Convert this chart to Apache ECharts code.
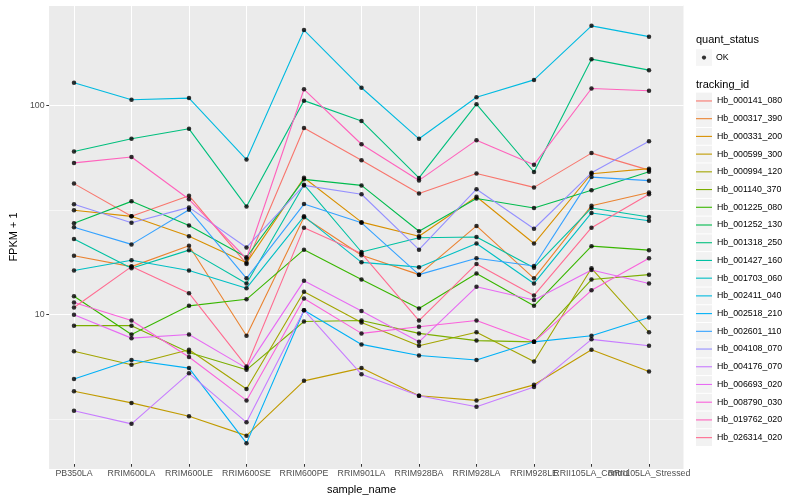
<!DOCTYPE html>
<html><head><meta charset="utf-8">
<script src="https://cdn.jsdelivr.net/npm/echarts@6/dist/echarts.min.js"></script>
<style>html,body{margin:0;padding:0;background:#fff}#c{width:800px;height:500px}</style>
</head><body><div id="c"></div>
<script>
const sampleNames = ['PB350LA','RRIM600LA','RRIM600LE','RRIM600SE','RRIM600PE','RRIM901LA','RRIM928BA','RRIM928LA','RRIM928LE','RRII105LA_Control','RRII105LA_Stressed'];
const trackingIds = ['Hb_000141_080','Hb_000317_390','Hb_000331_200','Hb_000599_300','Hb_000994_120','Hb_001140_370','Hb_001225_080','Hb_001252_130','Hb_001318_250','Hb_001427_160','Hb_001703_060','Hb_002411_040','Hb_002518_210','Hb_002601_110','Hb_004108_070','Hb_004176_070','Hb_006693_020','Hb_008790_030','Hb_019762_020','Hb_026314_020'];
const quantStatus = ['OK'];

const Hb_000141_080 = [41.3, 28.7, 36.1, 16.9, 76.7, 53.6, 37.0, 46.2, 39.6, 58.0, 48.0];
const Hb_000317_390 = [18.5, 16.4, 20.7, 7.6, 28.4, 18.6, 15.0, 25.8, 14.4, 32.3, 37.4];
const Hb_000331_200 = [30.7, 28.7, 23.0, 17.1, 44.1, 26.9, 23.0, 35.7, 21.2, 46.1, 48.8];
const Hb_000599_300 = [4.1, 3.6, 3.1, 2.5, 4.6, 5.3, 3.9, 3.7, 4.4, 6.5, 5.1];
const Hb_000994_120 = [6.4, 5.5, 6.5, 4.2, 12.4, 8.8, 6.8, 7.9, 5.7, 16.1, 7.9];
const Hb_001140_370 = [8.5, 8.5, 6.3, 5.2, 8.9, 9.0, 7.8, 7.2, 7.1, 14.2, 15.0];
const Hb_001225_080 = [11.8, 7.7, 10.6, 11.4, 19.8, 14.2, 10.3, 15.2, 10.6, 20.6, 19.7];
const Hb_001252_130 = [26.6, 33.9, 25.9, 18.2, 43.3, 40.5, 24.3, 35.0, 31.5, 38.4, 47.1];
const Hb_001318_250 = [59, 68, 76, 32, 104, 83, 44, 100, 47, 165, 146];
const Hb_001427_160 = [22.3, 16.1, 19.7, 13.6, 40.8, 19.3, 22.6, 22.8, 16.2, 31.5, 28.5];
const Hb_001703_060 = [15.7, 17.6, 15.7, 12.9, 28.7, 17.2, 16.3, 21.2, 13.6, 29.8, 27.3];
const Hb_002411_040 = [127, 105, 107, 54, 228, 120, 68, 108, 131, 239, 212];
const Hb_002518_210 = [4.7, 5.8, 5.3, 2.3, 10.1, 6.9, 6.1, 5.8, 7.1, 7.6, 9.3];
const Hb_002601_110 = [25.4, 21.0, 30.9, 14.4, 32.9, 26.7, 15.0, 18.0, 16.5, 44.4, 42.7];
const Hb_004108_070 = [32.8, 26.7, 31.7, 20.3, 40.5, 36.7, 19.8, 38.8, 25.0, 46.6, 66.2];
const Hb_004176_070 = [3.3, 2.85, 5.0, 2.9, 10.1, 4.95, 3.9, 3.45, 4.3, 7.3, 6.8];
const Hb_006693_020 = [9.6, 7.4, 7.7, 5.3, 14.0, 10.0, 7.1, 13.1, 11.3, 15.8, 13.6];
const Hb_008790_030 = [11.0, 9.0, 6.0, 3.7, 11.5, 7.8, 8.4, 9.0, 7.1, 12.6, 18.0];
const Hb_019762_020 = [52, 55.5, 34.7, 17.9, 118, 64, 42.8, 67, 51, 119, 116];
const Hb_026314_020 = [10.4, 16.4, 12.2, 5.4, 25.3, 19.0, 9.0, 16.9, 11.9, 25.3, 36.7];

const seriesValues = [Hb_000141_080, Hb_000317_390, Hb_000331_200, Hb_000599_300, Hb_000994_120, Hb_001140_370, Hb_001225_080, Hb_001252_130, Hb_001318_250, Hb_001427_160, Hb_001703_060, Hb_002411_040, Hb_002518_210, Hb_002601_110, Hb_004108_070, Hb_004176_070, Hb_006693_020, Hb_008790_030, Hb_019762_020, Hb_026314_020];

const seriesColors = ['#F8766D','#EA8331','#D89000','#C09B00','#A3A500','#7CAE00','#39B600','#00BB4E','#00BF7D','#00C1A3','#00BFC4','#00BAE0','#00B0F6','#35A2FF','#9590FF','#C77CFF','#E76BF3','#FA62DB','#FF62BC','#FF6C91'];

const FONT = '"Liberation Sans", Arial, Helvetica, sans-serif';

// y range: ggplot style 5% expansion in log space
const allVals = seriesValues.flat();
const lmin = Math.log10(Math.min(...allVals)), lmax = Math.log10(Math.max(...allVals));
const pad = (lmax - lmin) * 0.05;
const yMin = Math.pow(10, lmin - pad), yMax = Math.pow(10, lmax + pad);

const PANEL = {left: 39.5, top: 5, width: 644, height: 464};
const unit = PANEL.width / (sampleNames.length - 1 + 1.2);
const DATA_GRID = {left: PANEL.left + 0.1 * unit, top: PANEL.top, width: unit * sampleNames.length, height: PANEL.height};

const lineSeries = trackingIds.map((id, k) => ({
  name: id, type: 'line', xAxisIndex: 1, yAxisIndex: 2,
  data: seriesValues[k], symbol: 'none', showSymbol: false,
  lineStyle: {color: seriesColors[k], width: 1.1},
  itemStyle: {color: seriesColors[k], borderWidth: 0},
  z: 2, silent: true, animation: false
}));

const pointData = [];
seriesValues.forEach(vals => vals.forEach((v, i) => pointData.push([i, v])));

const KEY_H = 16.72;

const option = {
  animation: false,
  backgroundColor: '#ffffff',
  textStyle: {fontFamily: FONT},
  title: [
    {text: 'quant_status', left: 696, top: 34.5, padding: 0, textStyle: {fontSize: 11, fontWeight: 'normal', color: '#000', fontFamily: FONT}},
    {text: 'tracking_id', left: 696, top: 79, padding: 0, textStyle: {fontSize: 11, fontWeight: 'normal', color: '#000', fontFamily: FONT}}
  ],
  grid: [
    {left: PANEL.left, top: PANEL.top, width: PANEL.width, height: PANEL.height, show: true, backgroundColor: '#EBEBEB', borderWidth: 0},
    {left: DATA_GRID.left, top: DATA_GRID.top, width: DATA_GRID.width, height: DATA_GRID.height, show: false}
  ],
  xAxis: [
    {type: 'value', gridIndex: 0, min: 0, max: 1, show: false},
    {type: 'category', gridIndex: 1, data: sampleNames, boundaryGap: true,
     axisLine: {show: false},
     axisTick: {show: true, alignWithLabel: true, interval: 0, length: 2.75, lineStyle: {color: '#333333', width: 1}},
     splitLine: {show: true, alignWithLabel: true, interval: 0, lineStyle: {color: '#FFFFFF', width: 1.07}},
     axisLabel: {interval: 0, hideOverlap: false, fontSize: 8.8, color: '#4D4D4D', margin: 5.5, fontFamily: FONT},
     name: 'sample_name', nameLocation: 'middle', nameGap: 20,
     nameTextStyle: {fontSize: 11, color: '#000', fontFamily: FONT}}
  ],
  yAxis: [
    {type: 'log', gridIndex: 0, position: 'left', min: yMin, max: yMax, logBase: 10,
     axisLine: {show: false},
     axisTick: {show: true, length: 2.75, lineStyle: {color: '#333333', width: 1}},
     axisLabel: {fontSize: 8.8, color: '#4D4D4D', margin: 4.5, showMinLabel: false, showMaxLabel: false, fontFamily: FONT},
     splitLine: {show: true, lineStyle: {color: '#FFFFFF', width: 1.07}},
     name: 'FPKM + 1', nameLocation: 'middle', nameRotate: 90, nameGap: 22,
     nameTextStyle: {fontSize: 11, color: '#000', fontFamily: FONT}},
    {type: 'log', gridIndex: 0, position: 'right', min: yMin, max: yMax, logBase: Math.sqrt(10),
     axisLine: {show: false}, axisTick: {show: false}, axisLabel: {show: false},
     splitLine: {show: true, lineStyle: {color: '#FFFFFF', width: 0.55}}},
    {type: 'log', gridIndex: 1, min: yMin, max: yMax, logBase: 10, show: false, splitLine: {show: false}}
  ],
  legend: [
    {data: quantStatus, selectedMode: false, orient: 'vertical', left: 696, top: 49.2, padding: 0,
     itemWidth: 16, itemHeight: KEY_H, icon: 'rect', z: 4,
     itemStyle: {color: '#F2F2F2', borderWidth: 0}, textStyle: {color: 'rgba(0,0,0,0)', fontSize: 8.8, lineHeight: KEY_H}},
    {data: quantStatus, selectedMode: false, orient: 'vertical', left: 697, top: 49.2, padding: 0,
     itemWidth: 14, itemHeight: KEY_H, icon: 'rect', z: 5,
     itemStyle: {color: 'rgba(0,0,0,0)', borderWidth: 0}, textStyle: {color: '#000', fontSize: 8.8, lineHeight: KEY_H, fontFamily: FONT}},
    {data: quantStatus, selectedMode: false, orient: 'vertical', left: 701.9, top: 55.45, padding: 0,
     itemWidth: 4.2, itemHeight: 4.2, icon: 'circle', z: 6,
     itemStyle: {color: '#000000', borderWidth: 0}, textStyle: {color: 'rgba(0,0,0,0)', fontSize: 4}},
    {data: trackingIds, selectedMode: false, orient: 'vertical', left: 696, top: 92.6, padding: 0,
     itemWidth: 16, itemHeight: KEY_H, itemGap: 1, icon: 'rect', z: 4,
     itemStyle: {color: '#F2F2F2', borderWidth: 0}, textStyle: {color: 'rgba(0,0,0,0)', fontSize: 8.8, lineHeight: KEY_H}},
    {data: trackingIds, selectedMode: false, orient: 'vertical', left: 696, top: 92.6, padding: 0,
     itemWidth: 16, itemHeight: KEY_H, itemGap: 1, icon: 'path://M0,0H16V1.1H0Z', symbolKeepAspect: true, z: 5,
     itemStyle: {borderWidth: 0}, textStyle: {color: '#000', fontSize: 8.8, lineHeight: KEY_H, fontFamily: FONT}}
  ],
  series: lineSeries.concat([{
    name: 'OK', type: 'scatter', xAxisIndex: 1, yAxisIndex: 2,
    data: pointData, symbol: 'circle', symbolSize: 4.5,
    itemStyle: {color: '#000000'}, z: 3, silent: true, animation: false
  }])
};

const chart = echarts.init(document.getElementById('c'), null, {renderer: 'canvas'});
chart.setOption(option);
</script>
</body></html>
